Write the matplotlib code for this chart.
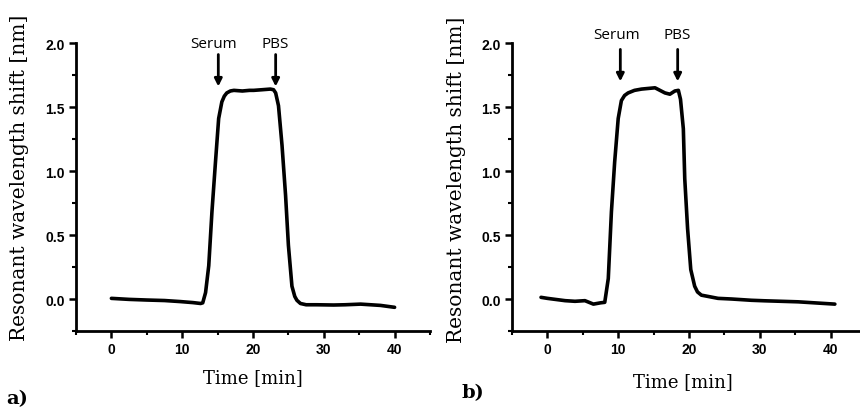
import matplotlib
matplotlib.use("Agg")
import matplotlib.pyplot as plt
from matplotlib.ticker import MultipleLocator

# ---- data ----
time_a = [0, 2.5, 5, 7.5, 9.7, 11.5, 12.6, 12.9, 13.3, 13.75, 14.2, 14.7, 15.15, 15.6,
          15.95, 16.3, 16.8, 17.3, 18.5, 19.5, 20.1, 21.3, 22.45, 22.9, 23.2, 23.6,
          24.1, 24.6, 25.0, 25.5, 25.9, 26.2, 26.7, 27.5, 29.0, 31.4, 33.0, 35.2,
          38.0, 40]
shift_a = [0.005, -0.003, -0.008, -0.012, -0.02, -0.028, -0.035, -0.03, 0.05, 0.26,
           0.68, 1.07, 1.41, 1.54, 1.585, 1.61, 1.625, 1.63, 1.625, 1.63, 1.63, 1.635,
           1.64, 1.635, 1.61, 1.51, 1.20, 0.81, 0.42, 0.10, 0.02, -0.01, -0.035,
           -0.045, -0.045, -0.047, -0.045, -0.04, -0.05, -0.065]

time_b = [-0.9, 0.0, 2.5, 3.9, 5.3, 6.5, 7.5, 8.1, 8.6, 9.04, 9.5, 10.0, 10.45, 10.9,
          11.4, 12.3, 13.3, 15.2, 16.6, 17.3, 18.0, 18.5, 18.8, 19.2, 19.4, 19.8,
          20.25, 20.8, 21.2, 21.75, 22.7, 24.1, 26.0, 28.8, 30.7, 35.4, 40.6]
shift_b = [0.013, 0.005, -0.013, -0.018, -0.013, -0.04, -0.03, -0.026, 0.16, 0.68,
           1.07, 1.41, 1.55, 1.59, 1.61, 1.63, 1.64, 1.65, 1.61, 1.60, 1.625, 1.63,
           1.56, 1.33, 0.94, 0.55, 0.23, 0.10, 0.055, 0.03, 0.02, 0.005, 0.0, -0.01,
           -0.014, -0.022, -0.04]

events = ["Serum", "PBS"]
event_times_a = [15.1, 23.2]
event_times_b = [10.3, 18.4]

x_ticks = [0, 10, 20, 30, 40]
y_ticks = [0.0, 0.5, 1.0, 1.5, 2.0]
x_label = "Time [min]"
y_label = "Resonant wavelength shift [nm]"
panel_labels = ["a)", "b)"]

# ---- figure ----
W, H = 860, 414
fig = plt.figure(figsize=(W / 100, H / 100), dpi=100)

def px_rect(left, top, right, bottom):
    return [left / W, (H - bottom) / H, (right - left) / W, (bottom - top) / H]

ax_a = fig.add_axes(px_rect(76, 44, 430, 332))
ax_b = fig.add_axes(px_rect(512, 44, 866, 332))

tick_font = dict(family="Liberation Sans", weight="bold", size=10)

def style(ax, t, s, ev_t, text_y, tail_y, tip_y):
    ax.plot(t, s, color="black", lw=2.6, solid_joinstyle="round", solid_capstyle="round")
    ax.set_xlim(-5, 45)
    ax.set_ylim(-0.25, 2.0)
    for sp in ["top", "right"]:
        ax.spines[sp].set_visible(False)
    for sp in ["left", "bottom"]:
        ax.spines[sp].set_linewidth(2.0)
    ax.set_xticks(x_ticks)
    ax.set_yticks(y_ticks)
    ax.set_xticklabels([str(v) for v in x_ticks], **tick_font)
    ax.set_yticklabels([f"{v:.1f}" for v in y_ticks], **tick_font)
    ax.xaxis.set_minor_locator(MultipleLocator(5))
    ax.yaxis.set_minor_locator(MultipleLocator(0.25))
    ax.tick_params(which="major", direction="out", length=5, width=1.8, pad=3)
    ax.tick_params(which="minor", direction="out", length=3, width=1.5)
    for name, x in zip(events, ev_t):
        ax.annotate("", xy=(x, tip_y), xytext=(x, tail_y),
                    arrowprops=dict(arrowstyle="-|>", color="black", lw=2.0,
                                    mutation_scale=11, shrinkA=0, shrinkB=0),
                    annotation_clip=False)
    ax.text(ev_t[0] - 0.6, text_y, events[0], ha="center", va="center",
            family="Open Sans", fontsize=11, clip_on=False)
    ax.text(ev_t[1], text_y, events[1], ha="center", va="center",
            family="Open Sans", fontsize=11, clip_on=False)

style(ax_a, time_a, shift_a, event_times_a, 2.0, 1.91, 1.66)
style(ax_b, time_b, shift_b, event_times_b, 2.07, 1.95, 1.70)

serif = "DejaVu Serif"
fig.text(253 / W, 1 - 378 / H, x_label, ha="center", va="center", family=serif, fontsize=13)
fig.text(683 / W, 1 - 382 / H, x_label, ha="center", va="center", family=serif, fontsize=13)
fig.text(20 / W, 1 - 178 / H, y_label, rotation=90, ha="center", va="center",
         family=serif, fontsize=14.5)
fig.text(457 / W, 1 - 180 / H, y_label, rotation=90, ha="center", va="center",
         family=serif, fontsize=14.5)
fig.text(6 / W, 1 - 399 / H, panel_labels[0], ha="left", va="center", family=serif,
         fontsize=14, weight="bold")
fig.text(461 / W, 1 - 393 / H, panel_labels[1], ha="left", va="center", family=serif,
         fontsize=14, weight="bold")

fig.savefig("out.png", dpi=100, facecolor="white")
